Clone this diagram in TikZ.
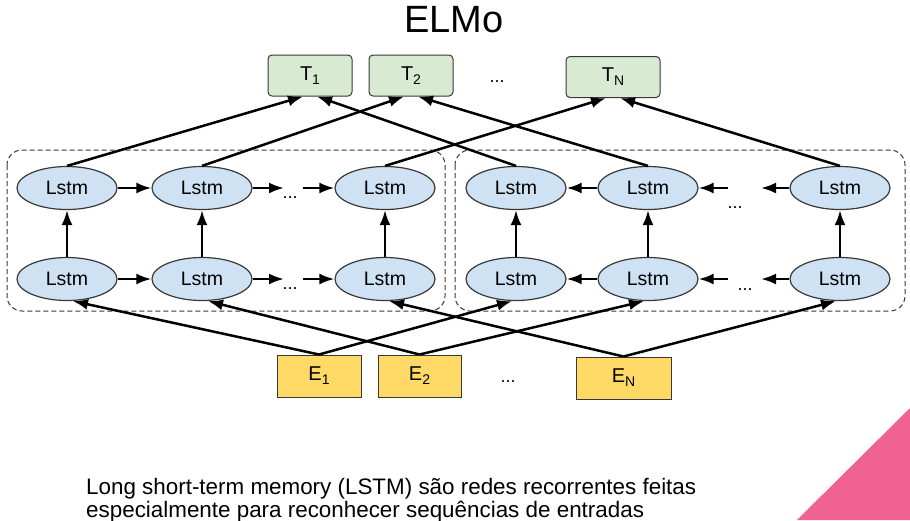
\documentclass[tikz,border=0pt]{standalone}
\usepackage{fontspec}
\setmainfont{Liberation Sans}
\usetikzlibrary{arrows.meta,shapes.geometric}
\definecolor{tgreen}{HTML}{D9EAD3}
\definecolor{eyellow}{HTML}{FFD966}
\definecolor{lblue}{HTML}{CFE2F3}
\definecolor{edgegray}{HTML}{383838}
\definecolor{pinkc}{RGB}{240,98,146}
\newcommand\lsub[1]{\raisebox{-4pt}{\fontsize{14}{14}\selectfont #1}}
\tikzset{
  tbox/.style={draw=edgegray, line width=1pt, fill=tgreen, rounded corners=4pt,
    minimum height=41pt, inner sep=0pt, font=\fontsize{20}{20}\selectfont},
  ebox/.style={draw=edgegray, line width=1pt, fill=eyellow,
    minimum height=42pt, inner sep=0pt, font=\fontsize{20}{20}\selectfont},
  lstm/.style={ellipse, draw=edgegray, line width=1.2pt, fill=lblue, minimum width=100pt,
    minimum height=43pt, inner sep=0pt, font=\fontsize{19.5}{19.5}\selectfont},
  arr/.style={line width=2.5pt, -{Latex[length=15pt,width=11pt]}},
  dline/.style={line width=2.5pt, -{Latex[length=15pt,width=11pt]}},
  dotsn/.style={inner sep=0pt, font=\fontsize{18}{18}\selectfont},
  frame/.style={draw=edgegray, line width=1pt, dash pattern=on 5pt off 3pt, rounded corners=15pt},
}
\begin{document}
\begin{tikzpicture}[x=1pt,y=-1pt]
\useasboundingbox (0,0) rectangle (910,520);
\fill[pinkc] (910,408) -- (910,520) -- (797,520) -- cycle;

\node[anchor=base, font=\fontsize{38}{38}\selectfont] (title) at (454,32) {ELMo};

% dashed frames
\draw[frame] (7,150) rectangle (445,311);
\draw[frame] (455,150) rectangle (905,311);

% T boxes
\node[tbox, minimum width=84pt] (T1) at (310,75.5) {T\lsub{1}};
\node[tbox, minimum width=84pt] (T2) at (411,75.5) {T\lsub{2}};
\node[tbox, minimum width=94pt] (TN) at (613,77) {T\lsub{N}};
\node[dotsn] (tdots) at (497,82) {...};

% E boxes
\node[ebox, minimum width=84pt] (E1) at (319,376) {E\lsub{1}};
\node[ebox, minimum width=83pt] (E2) at (419.5,376) {E\lsub{2}};
\node[ebox, minimum width=95pt] (EN) at (623.5,378) {E\lsub{N}};
\node[dotsn] (edots) at (508,382) {...};

% left LSTMs
\node[lstm] (Lt1) at (67,188) {Lstm};
\node[lstm] (Lt2) at (202,188) {Lstm};
\node[lstm] (Lt3) at (385,188) {Lstm};
\node[lstm] (Lb1) at (67,279) {Lstm};
\node[lstm] (Lb2) at (202,279) {Lstm};
\node[lstm] (Lb3) at (385,279) {Lstm};
% right LSTMs
\node[lstm] (Rt1) at (516,188) {Lstm};
\node[lstm] (Rt2) at (648,188) {Lstm};
\node[lstm] (Rt3) at (840,188) {Lstm};
\node[lstm] (Rb1) at (516,279) {Lstm};
\node[lstm] (Rb2) at (648,279) {Lstm};
\node[lstm] (Rb3) at (840,279) {Lstm};

\node[dotsn] (ltdots) at (290,198) {...};
\node[dotsn] (lbdots) at (290,289) {...};
\node[dotsn] (rtdots) at (735,208) {...};
\node[dotsn] (rbdots) at (745,290) {...};

% gap coordinates
\coordinate (ltA) at (284,188); \coordinate (ltB) at (303,188);
\coordinate (lbA) at (284,279); \coordinate (lbB) at (303,279);
\coordinate (rtA) at (728,188); \coordinate (rtB) at (761,188);
\coordinate (rbA) at (728,279); \coordinate (rbB) at (761,279);

% horizontal arrows left
\draw[arr] (Lt1) -- (Lt2);
\draw[arr] (Lt2) -- (ltA);
\draw[arr] (ltB) -- (Lt3);
\draw[arr] (Lb1) -- (Lb2);
\draw[arr] (Lb2) -- (lbA);
\draw[arr] (lbB) -- (Lb3);
% horizontal arrows right
\draw[arr] (Rt2) -- (Rt1);
\draw[arr] (rtA) -- (Rt2);
\draw[arr] (Rt3) -- (rtB);
\draw[arr] (Rb2) -- (Rb1);
\draw[arr] (rbA) -- (Rb2);
\draw[arr] (Rb3) -- (rbB);

% vertical arrows
\draw[arr] (Lb1) -- (Lt1);
\draw[arr] (Lb2) -- (Lt2);
\draw[arr] (Lb3) -- (Lt3);
\draw[arr] (Rb1) -- (Rt1);
\draw[arr] (Rb2) -- (Rt2);
\draw[arr] (Rb3) -- (Rt3);

% to T boxes
\draw[dline] (Lt1.north) -- ([xshift=-7pt]T1.south);
\draw[dline] (Rt1.north) -- ([xshift=7pt]T1.south);
\draw[dline] (Lt2.north) -- ([xshift=-7pt]T2.south);
\draw[dline] (Rt2.north) -- ([xshift=7pt]T2.south);
\draw[dline] (Lt3.north) -- ([xshift=-7pt]TN.south);
\draw[dline] (Rt3.north) -- ([xshift=7pt]TN.south);

% from E boxes
\draw[dline] (E1.north) -- ([xshift=6pt]Lb1.south);
\draw[dline] (E1.north) -- ([xshift=-4pt]Rb1.south);
\draw[dline] (E2.north) -- ([xshift=6pt]Lb2.south);
\draw[dline] (E2.north) -- ([xshift=-4pt]Rb2.south);
\draw[dline] (EN.north) -- ([xshift=4pt]Lb3.south);
\draw[dline] (EN.north) -- ([xshift=-4pt]Rb3.south);

% caption
\node[anchor=base west, inner sep=0pt, font=\fontsize{22.4}{23}\selectfont] (cap1) at (86,494) {Long short-term memory (LSTM) são redes recorrentes feitas};
\node[anchor=base west, inner sep=0pt, font=\fontsize{22.4}{23}\selectfont] (cap2) at (86,517) {especialmente para reconhecer sequências de entradas};
\end{tikzpicture}
\end{document}
